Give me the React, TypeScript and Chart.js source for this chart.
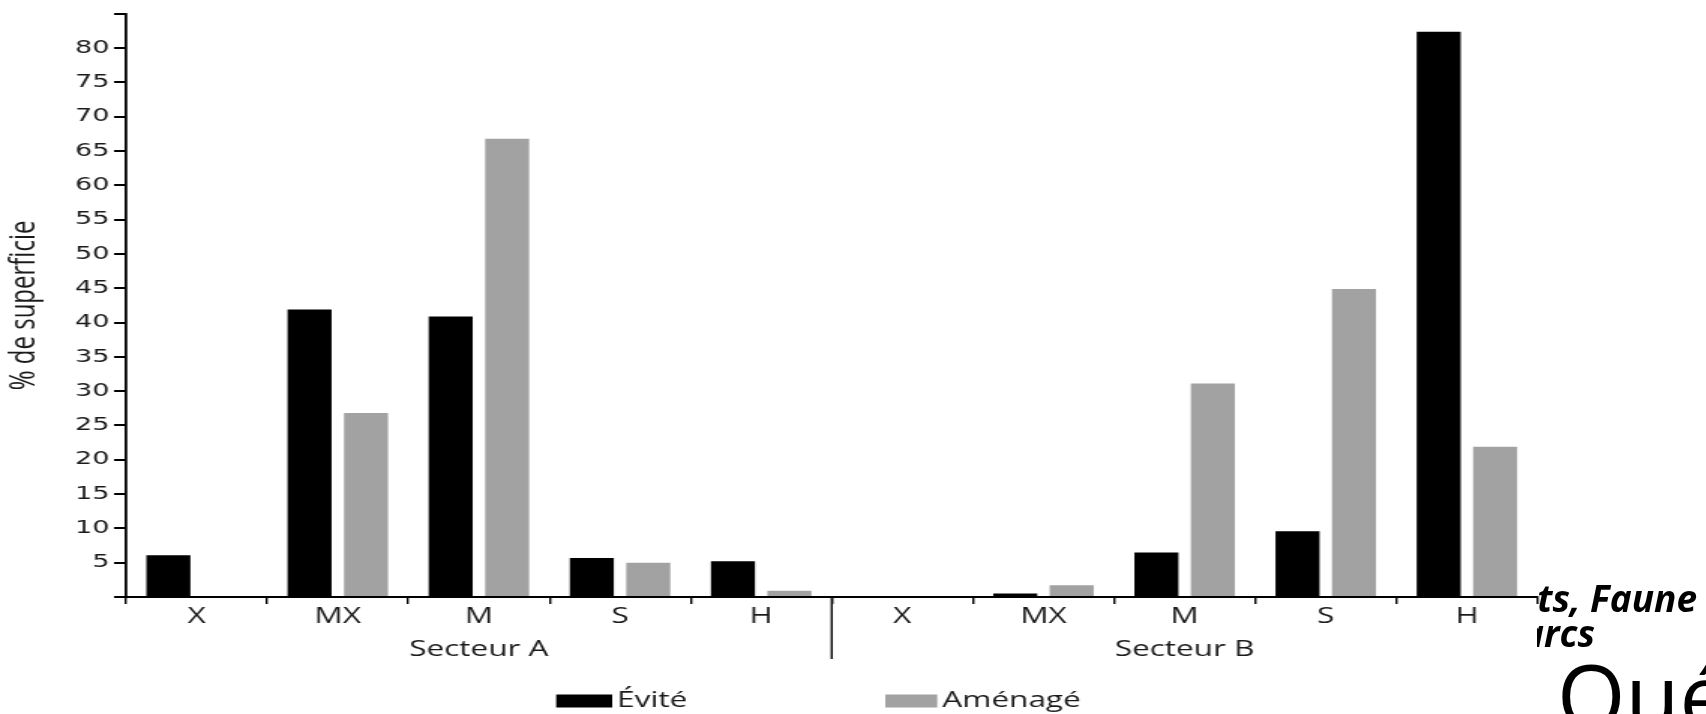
import React, { useEffect, useRef } from 'react';
import { Chart, registerables } from 'chart.js';

Chart.register(...registerables);

const categories = ['X', 'MX', 'M', 'S', 'H', 'X', 'MX', 'M', 'S', 'H'];
const groupLabels = ['Secteur A', 'Secteur B'];
const seriesNames = ['Évité', 'Aménagé'];
const eviteValues = [6.1, 41.9, 40.9, 5.7, 5.2, 0, 0.5, 6.5, 9.6, 82.4];
const amenageValues = [0, 26.8, 66.8, 5.0, 0.9, 0, 1.7, 31.1, 44.9, 21.9];
const yTitle = '% de superficie';
const yMin = 0;
const yMax = 85;
const yStep = 5;

// the source figure is stretched horizontally; we draw narrower and stretch with CSS
const STRETCH = 1.5;
const OUT_W = 1706;
const OUT_H = 714;
const CANVAS_W = Math.round(OUT_W / STRETCH);

const BLACK = '#000000';
const GRAY = '#a2a2a2';
const TEXT = '#1a1a1a';
const FONT = "'Open Sans', 'Noto Sans', sans-serif";
const TICK_FONT = "'DejaVu Sans', 'Open Sans', sans-serif";

const decorPlugin = {
  id: 'decor',
  afterDraw(chart: any) {
    const { ctx, chartArea } = chart;
    const xs = chart.scales.x;
    const p = (i: number) => xs.getPixelForValue(i);
    ctx.save();
    const half = categories.length / 2;
    const divX = (p(half - 1) + p(half)) / 2;
    ctx.strokeStyle = BLACK;
    ctx.lineWidth = 1.4;
    ctx.beginPath();
    ctx.moveTo(divX, chartArea.bottom);
    ctx.lineTo(divX, chartArea.bottom + 62);
    ctx.stroke();
    ctx.fillStyle = TEXT;
    ctx.font = `21px ${FONT}`;
    ctx.textAlign = 'center';
    ctx.textBaseline = 'middle';
    groupLabels.forEach((g, gi) => {
      const a = p(gi * half);
      const b = p(gi * half + half - 1);
      ctx.fillText(g, (a + b) / 2, chartArea.bottom + 53);
    });
    const legendY = 701;
    const items = [
      { x: 556 / STRETCH, w: 56 / STRETCH, color: BLACK, text: seriesNames[0] },
      { x: 885 / STRETCH, w: 52 / STRETCH, color: GRAY, text: seriesNames[1] },
    ];
    ctx.textAlign = 'left';
    items.forEach((it) => {
      ctx.fillStyle = it.color;
      ctx.fillRect(it.x, legendY - 6.5, it.w, 13);
      ctx.fillStyle = TEXT;
      ctx.fillText(it.text, it.x + it.w + 5 / STRETCH, legendY);
    });
    ctx.restore();
  },
};

export default function App() {
  const ref = useRef<HTMLCanvasElement | null>(null);

  useEffect(() => {
    if (!ref.current) return;
    const chart = new Chart(ref.current, {
      type: 'bar',
      data: {
        labels: categories,
        datasets: [
          {
            label: seriesNames[0],
            data: eviteValues,
            backgroundColor: BLACK,
            categoryPercentage: 0.8,
            barPercentage: 0.78,
          },
          {
            label: seriesNames[1],
            data: amenageValues,
            backgroundColor: GRAY,
            categoryPercentage: 0.8,
            barPercentage: 0.78,
          },
        ],
      },
      options: {
        animation: false,
        responsive: false,
        devicePixelRatio: 1,
        layout: { padding: { top: 11, right: CANVAS_W - 1537 / STRETCH, left: 0, bottom: 0 } },
        plugins: {
          legend: { display: false },
          tooltip: { enabled: false },
        },
        scales: {
          x: {
            afterFit: (s: any) => {
              s.height = OUT_H - 597;
            },
            grid: {
              display: true,
              drawOnChartArea: false,
              drawTicks: true,
              offset: true,
              tickLength: 7,
              color: BLACK,
              lineWidth: 1.4,
            },
            border: { display: true, color: BLACK, width: 2 },
            ticks: {
              color: TEXT,
              font: { family: FONT, size: 21 },
              padding: 0,
              maxRotation: 0,
              autoSkip: false,
            },
          },
          y: {
            min: yMin,
            max: yMax,
            afterFit: (s: any) => {
              s.width = 126 / STRETCH;
            },
            grid: {
              display: true,
              drawOnChartArea: false,
              drawTicks: true,
              tickLength: 8,
              color: BLACK,
              lineWidth: 2,
            },
            border: { display: true, color: BLACK, width: 1.8 },
            ticks: {
              stepSize: yStep,
              color: TEXT,
              font: { family: TICK_FONT, size: 18 },
              padding: 3,
              callback: (v: any) => (v === yMin || v === yMax ? '' : String(v)),
            },
            title: {
              display: true,
              text: yTitle,
              color: TEXT,
              font: { family: FONT, size: 24 },
              padding: { top: 2, bottom: 0 },
            },
          },
        },
      },
      plugins: [decorPlugin],
    });
    return () => chart.destroy();
  }, []);

  return (
    <div
      style={{
        position: 'absolute',
        left: 0,
        top: 0,
        width: OUT_W,
        height: OUT_H,
        overflow: 'hidden',
        background: '#fff',
      }}
    >
      <canvas
        ref={ref}
        width={CANVAS_W}
        height={OUT_H}
        style={{ display: 'block', width: OUT_W, height: OUT_H }}
      />
      <div
        style={{
          position: 'absolute',
          left: 1537,
          top: 560,
          width: OUT_W - 1537,
          height: OUT_H - 560,
          overflow: 'hidden',
          fontFamily: FONT,
          color: '#000',
        }}
      >
        <div
          style={{
            position: 'absolute',
            right: 9,
            top: 19,
            fontSize: 37,
            fontWeight: 700,
            fontStyle: 'italic',
            whiteSpace: 'nowrap',
            lineHeight: '37px',
          }}
        >
          Forêts, Faune
        </div>
        <div
          style={{
            position: 'absolute',
            right: 111,
            top: 54,
            fontSize: 37,
            fontWeight: 700,
            fontStyle: 'italic',
            whiteSpace: 'nowrap',
            lineHeight: '37px',
          }}
        >
          et Parcs
        </div>
        <div
          style={{
            position: 'absolute',
            left: 20,
            top: 90,
            fontSize: 88,
            fontWeight: 400,
            whiteSpace: 'nowrap',
            lineHeight: '88px',
          }}
        >
          Québec
        </div>
      </div>
    </div>
  );
}
